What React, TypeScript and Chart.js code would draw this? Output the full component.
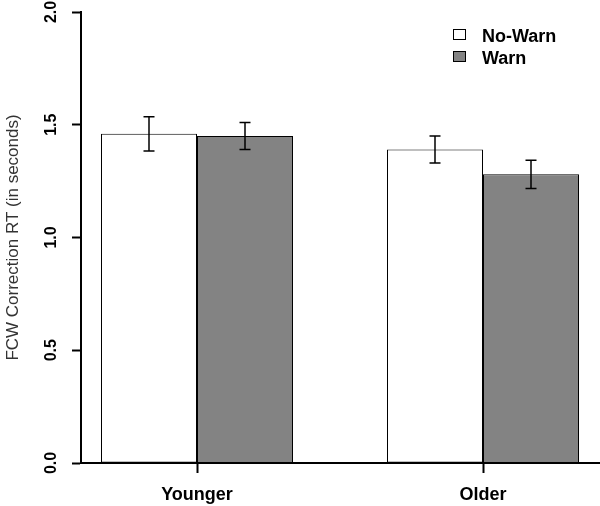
import React, { useEffect, useRef } from "react";
import { Chart, registerables } from "chart.js";

Chart.register(...registerables);

const groups = ["Younger", "Older"];
const seriesNames = ["No-Warn", "Warn"];
const noWarn = [1.46, 1.39];
const warn = [1.45, 1.28];
const noWarnErr = [0.076, 0.06];
const warnErr = [0.06, 0.063];
const yTicks = [0, 0.5, 1.0, 1.5, 2.0];
const yTitle = "FCW Correction RT (in seconds)";

const FONT = "'Liberation Sans', Arial, Helvetica, sans-serif";

const errorBarPlugin = {
  id: "errorBars",
  afterDatasetsDraw(chart: any) {
    const ctx = chart.ctx;
    const yScale = chart.scales.y;
    chart.data.datasets.forEach((ds: any, i: number) => {
      const meta = chart.getDatasetMeta(i);
      meta.data.forEach((el: any, j: number) => {
        const v = ds.data[j].y;
        const e = ds.errors[j];
        const x = el.x;
        const yt = yScale.getPixelForValue(v + e);
        const yb = yScale.getPixelForValue(v - e);
        ctx.save();
        ctx.strokeStyle = "#000";
        ctx.lineWidth = 1.5;
        ctx.beginPath();
        ctx.moveTo(x, yt);
        ctx.lineTo(x, yb);
        ctx.moveTo(x - 5.5, yt);
        ctx.lineTo(x + 5.5, yt);
        ctx.moveTo(x - 5.5, yb);
        ctx.lineTo(x + 5.5, yb);
        ctx.stroke();
        ctx.restore();
      });
    });
  },
};

const textPlugin = {
  id: "customText",
  afterDraw(chart: any) {
    const ctx = chart.ctx;
    const yScale = chart.scales.y;
    const area = chart.chartArea;
    ctx.save();
    // y tick labels, rotated
    ctx.fillStyle = "#000";
    ctx.font = `bold 16px ${FONT}`;
    ctx.textAlign = "center";
    ctx.textBaseline = "alphabetic";
    yScale.ticks.forEach((t: any) => {
      const y = yScale.getPixelForValue(t.value);
      ctx.save();
      ctx.translate(56, y);
      ctx.rotate(-Math.PI / 2);
      ctx.fillText(Number(t.value).toFixed(1), 0, 0);
      ctx.restore();
    });
    // y title
    ctx.fillStyle = "#333";
    ctx.font = `17px ${FONT}`;
    ctx.save();
    ctx.translate(17.5, (area.top + area.bottom) / 2);
    ctx.rotate(-Math.PI / 2);
    ctx.fillText(yTitle, 0, 0);
    ctx.restore();
    // legend
    ctx.font = `bold 18px ${FONT}`;
    ctx.textAlign = "left";
    chart.data.datasets.forEach((ds: any, i: number) => {
      const by = 29 + i * 22;
      ctx.fillStyle = ds.backgroundColor;
      ctx.fillRect(453.5, by + 0.5, 12, 10);
      ctx.strokeStyle = "#000";
      ctx.lineWidth = 1;
      ctx.strokeRect(453.5, by + 0.5, 12, 10);
      ctx.fillStyle = "#000";
      ctx.fillText(ds.label, 482, 41.5 + i * 22);
    });
    ctx.restore();
  },
};

export default function App() {
  const ref = useRef<HTMLCanvasElement>(null);
  useEffect(() => {
    if (!ref.current) return;
    const xMin = -(197 - 81) / 286;
    const xMax = xMin + 519 / 286;
    const chart = new Chart(ref.current, {
      type: "bar",
      data: {
        datasets: [
          {
            label: seriesNames[0],
            data: groups.map((g, i) => ({ x: i, y: noWarn[i] })),
            errors: noWarnErr,
            backgroundColor: "#ffffff",
            borderColor: "#000000",
            borderWidth: 1,
            borderSkipped: false,
          } as any,
          {
            label: seriesNames[1],
            data: groups.map((g, i) => ({ x: i, y: warn[i] })),
            errors: warnErr,
            backgroundColor: "#838383",
            borderColor: "#000000",
            borderWidth: 1,
            borderSkipped: false,
          } as any,
        ],
      },
      options: {
        animation: false,
        responsive: false,
        devicePixelRatio: 1,
        categoryPercentage: 192 / 286,
        barPercentage: 1,
        layout: { padding: { top: 12, right: 0, left: 0, bottom: 0 } },
        plugins: { legend: { display: false }, tooltip: { enabled: false } },
        scales: {
          x: {
            type: "linear",
            offset: false,
            min: xMin,
            max: xMax,
            afterBuildTicks: (s: any) => {
              s.ticks = groups.map((g, i) => ({ value: i }));
            },
            afterFit: (s: any) => {
              s.height = 43;
            },
            ticks: {
              autoSkip: false,
              maxRotation: 0,
              minRotation: 0,
              padding: 11,
              color: "#000",
              font: { family: FONT, size: 18, weight: "bold" },
              callback: (v: any, i: number) => groups[i],
            },
            grid: {
              offset: false,
              drawOnChartArea: false,
              drawTicks: true,
              tickLength: 10,
              tickWidth: 2,
              tickColor: "#000",
            },
            border: { display: true, color: "#000", width: 2 },
          },
          y: {
            min: 0,
            max: 2,
            afterBuildTicks: (s: any) => {
              s.ticks = yTicks.map((v) => ({ value: v }));
            },
            afterFit: (s: any) => {
              s.width = 81;
            },
            ticks: { display: false },
            grid: {
              drawOnChartArea: false,
              drawTicks: true,
              tickLength: 9,
              tickWidth: 2,
              tickColor: "#000",
            },
            border: { display: true, color: "#000", width: 2 },
          },
        },
      } as any,
      plugins: [errorBarPlugin, textPlugin],
    });
    return () => chart.destroy();
  }, []);
  return (
    <div style={{ position: "absolute", left: 0, top: 0, width: 600, height: 506, background: "#fff" }}>
      <canvas ref={ref} width={600} height={506} style={{ display: "block" }} />
    </div>
  );
}
